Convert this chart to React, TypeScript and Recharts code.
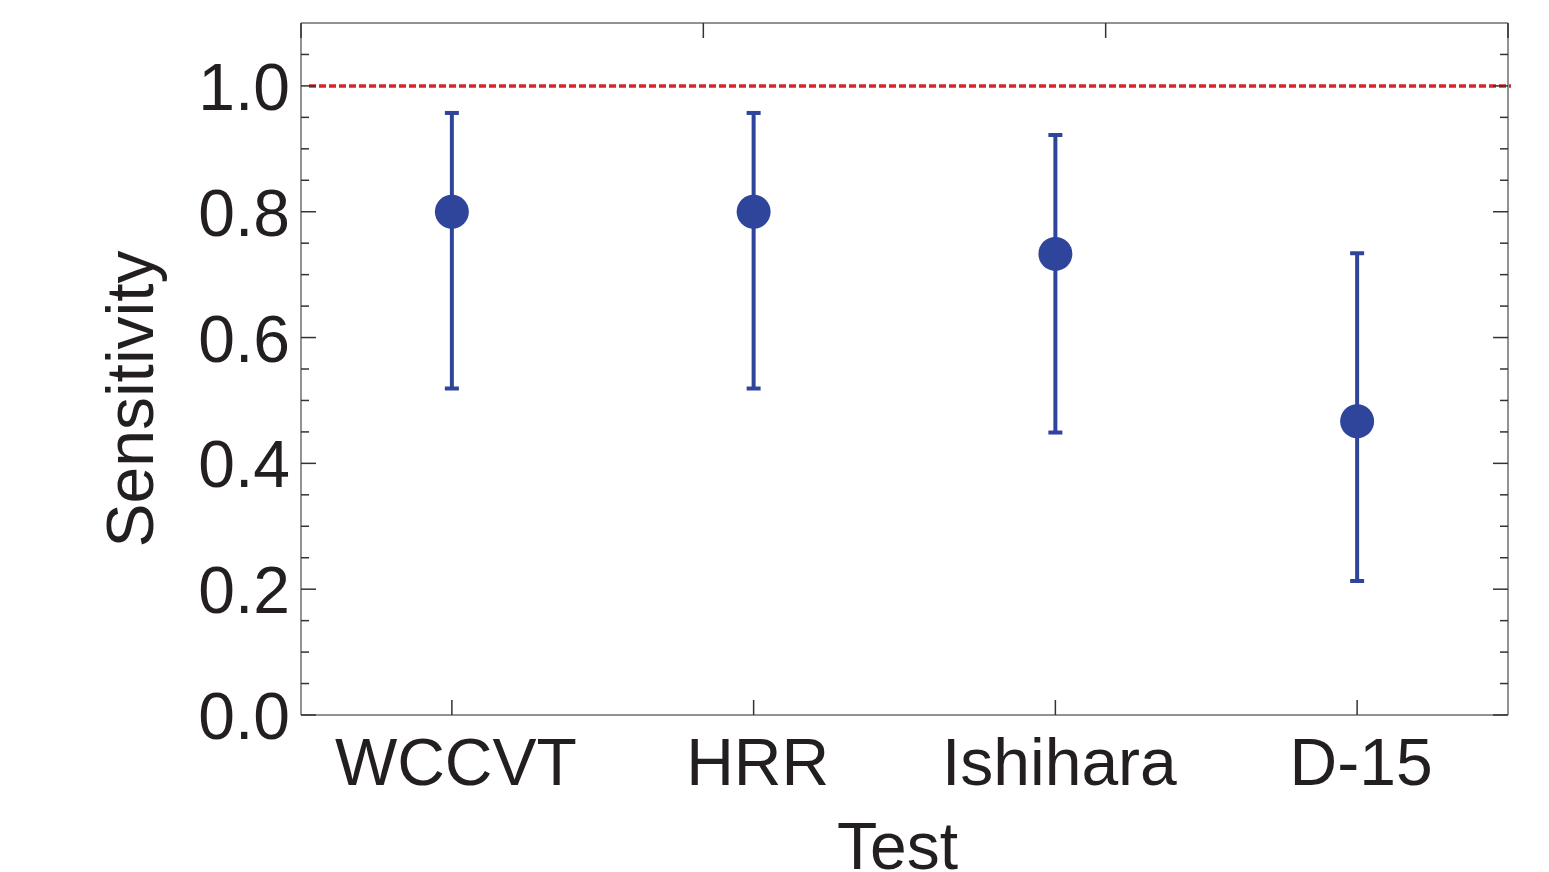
import React from 'react';
import {
    ComposedChart,
    ErrorBar,
    ReferenceLine,
    Scatter,
    XAxis,
    YAxis
} from 'recharts';

const tests = ['WCCVT', 'HRR', 'Ishihara', 'D-15'];
const sensitivity = [0.8, 0.8, 0.733, 0.467];
const ciLower = [0.519, 0.519, 0.449, 0.213];
const ciUpper = [0.957, 0.957, 0.922, 0.734];
const yTicks = [0, 0.05, 0.1, 0.15, 0.2, 0.25, 0.3, 0.35, 0.4, 0.45, 0.5, 0.55, 0.6, 0.65, 0.7, 0.75, 0.8, 0.85, 0.9, 0.95, 1.0, 1.05];
const xTicks = [0, 1, 2, 3];

const data = tests.map((name, i) => ({
    idx: i,
    name,
    value: sensitivity[i],
    err: [sensitivity[i] - ciLower[i], ciUpper[i] - sensitivity[i]]
}));

const BLUE = '#2f459c';
const RED = '#d9262b';
const TEXT = '#231f20';
const AXIS = '#6d6e71';
const TICK = '#333';
const FONT = '"Liberation Sans", Arial, sans-serif';
const M = 10;

const isMajor = (v: number) => Math.abs(v * 5 - Math.round(v * 5)) < 1e-6;

const LeftTick = (props: any) => {
    const { x, y, payload } = props;
    const ax = x + M;
    const major = isMajor(payload.value);
    return (
        <g>
            <line x1={ax} x2={ax + (major ? 15 : 8)} y1={y} y2={y} stroke={TICK} strokeWidth={1.5} />
            {major && (
                <text x={ax - 11} y={y + 24} textAnchor="end" fontSize={66} fontFamily={FONT} fill={TEXT}>
                    {payload.value.toFixed(1)}
                </text>
            )}
        </g>
    );
};

const RightTick = (props: any) => {
    const { x, y, payload } = props;
    const ax = x - M;
    const major = isMajor(payload.value);
    return <line x1={ax} x2={ax - (major ? 15 : 8)} y1={y} y2={y} stroke={TICK} strokeWidth={1.5} />;
};

const BottomTick = (props: any) => {
    const { x, y, payload } = props;
    const ay = y - M;
    return (
        <g>
            <line x1={x} x2={x} y1={ay} y2={ay - 15} stroke={TICK} strokeWidth={1.5} />
            <text x={x + 4} y={ay + 70} textAnchor="middle" fontSize={66} fontFamily={FONT} fill={TEXT}>
                {tests[payload.value]}
            </text>
        </g>
    );
};

const TopTick = (props: any) => {
    const { x, y } = props;
    const ay = y + M;
    return <line x1={x} x2={x} y1={ay} y2={ay + 15} stroke={TICK} strokeWidth={1.5} />;
};

const Dot = (props: any) => <circle cx={props.cx} cy={props.cy} r={17} fill={BLUE} />;

const DashedRef = (props: any) => (
    <line
        x1={props.x1 + 8}
        y1={props.y1}
        x2={props.x2 + 3}
        y2={props.y2}
        stroke={RED}
        strokeWidth={3.5}
        strokeDasharray="7 3"
    />
);

export default function App() {
    return (
        <div style={{ position: 'absolute', left: 0, top: 0, width: 1549, height: 872, background: '#fff' }}>
            <ComposedChart
                width={1549}
                height={872}
                data={data}
                margin={{ top: 21, right: 39, bottom: 0, left: 101 }}
            >
                <XAxis
                    xAxisId="bottom"
                    dataKey="idx"
                    type="number"
                    domain={[-0.5, 3.5]}
                    ticks={xTicks}
                    interval={0}
                    height={157}
                    tickSize={0}
                    tickMargin={M}
                    tickLine={false}
                    axisLine={{ stroke: AXIS, strokeWidth: 1.5 }}
                    tick={<BottomTick />}
                    label={{
                        content: ({ viewBox }: any) => (
                            <text
                                x={viewBox.x + viewBox.width / 2 - 7}
                                y={viewBox.y + 154}
                                textAnchor="middle"
                                fontSize={66}
                                fontFamily={FONT}
                                fill={TEXT}
                            >
                                Test
                            </text>
                        )
                    }}
                />
                <XAxis
                    xAxisId="top"
                    orientation="top"
                    type="number"
                    domain={[-0.5, 3.5]}
                    ticks={xTicks}
                    interval={0}
                    height={2}
                    tickSize={0}
                    tickMargin={M}
                    tickLine={false}
                    axisLine={{ stroke: AXIS, strokeWidth: 1.5 }}
                    tick={<TopTick />}
                    allowDataOverflow
                />
                <YAxis
                    yAxisId="left"
                    type="number"
                    domain={[0, 1.1]}
                    ticks={yTicks}
                    interval={0}
                    width={200}
                    tickSize={0}
                    tickMargin={M}
                    tickLine={false}
                    axisLine={{ stroke: AXIS, strokeWidth: 1.5 }}
                    tick={<LeftTick />}
                    allowDataOverflow
                    label={{
                        content: ({ viewBox }: any) => (
                            <text
                                transform={`translate(${viewBox.x + 52}, ${viewBox.y + viewBox.height / 2 + 30}) rotate(-90)`}
                                textAnchor="middle"
                                fontSize={66}
                                fontFamily={FONT}
                                fill={TEXT}
                            >
                                Sensitivity
                            </text>
                        )
                    }}
                />
                <YAxis
                    yAxisId="right"
                    orientation="right"
                    type="number"
                    domain={[0, 1.1]}
                    ticks={yTicks}
                    interval={0}
                    width={2}
                    tickSize={0}
                    tickMargin={M}
                    tickLine={false}
                    axisLine={{ stroke: AXIS, strokeWidth: 1.5 }}
                    tick={<RightTick />}
                    allowDataOverflow
                />
                <ReferenceLine
                    xAxisId="bottom"
                    yAxisId="left"
                    y={1}
                    stroke={RED}
                    shape={<DashedRef />}
                />
                <Scatter
                    xAxisId="bottom"
                    yAxisId="left"
                    dataKey="value"
                    fill={BLUE}
                    shape={<Dot />}
                    isAnimationActive={false}
                >
                    <ErrorBar
                        dataKey="err"
                        direction="y"
                        width={7}
                        stroke={BLUE}
                        strokeWidth={4}
                        isAnimationActive={false}
                    />
                </Scatter>
            </ComposedChart>
        </div>
    );
}
